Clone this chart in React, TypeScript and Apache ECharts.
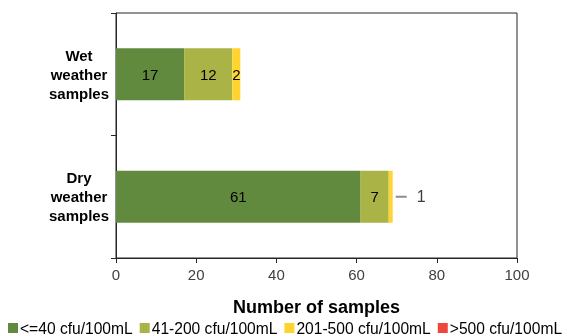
import React, { useEffect, useRef } from "react";
import * as echarts from "echarts";

const categories = ["Wet\nweather\nsamples", "Dry\nweather\nsamples"];
const seriesNames = ["<=40 cfu/100mL", "41-200 cfu/100mL", "201-500 cfu/100mL", ">500 cfu/100mL"];
const le40 = [17, 61];
const v41to200 = [12, 7];
const v201to500 = [2, 1];
const gt500 = [0, 0];
const xTicks = [0, 20, 40, 60, 80, 100];
const colors = ["#628a3f", "#aab345", "#ffd42e", "#f0473c"];

export default function App() {
  const ref = useRef<HTMLDivElement>(null);
  useEffect(() => {
    const chart = echarts.init(ref.current!, null, { renderer: "svg" });
    const font = "'Liberation Sans', Arial, sans-serif";
    const inside = { show: true, position: "inside", color: "#000", fontSize: 15, fontFamily: font };
    chart.setOption({
      animation: false,
      grid: { left: 116, right: 52, top: 13, bottom: 78, show: true, borderColor: "#262626", borderWidth: 1 },
      xAxis: {
        type: "value",
        min: xTicks[0],
        max: xTicks[xTicks.length - 1],
        interval: 20,
        axisLine: { show: true, lineStyle: { color: "#262626" } },
        axisTick: { show: true, length: 5, lineStyle: { color: "#262626" } },
        splitLine: { show: false },
        axisLabel: { color: "#404040", fontSize: 15, fontFamily: font, margin: 9 },
        name: "Number of samples",
        nameLocation: "middle",
        nameGap: 40,
        nameTextStyle: { color: "#000", fontSize: 18, fontWeight: "bold", fontFamily: font },
      },
      yAxis: {
        type: "category",
        data: categories,
        inverse: true,
        axisLine: { show: true, lineStyle: { color: "#262626" } },
        axisTick: { show: true, length: 5, lineStyle: { color: "#262626" } },
        axisLabel: {
          color: "#000",
          fontSize: 15,
          fontWeight: "bold",
          fontFamily: font,
          align: "center",
          margin: 37,
          lineHeight: 19,
        },
      },
      legend: {
        top: 320,
        left: 8,
        padding: 0,
        itemWidth: 10,
        itemHeight: 10,
        itemGap: 7,
        icon: "rect",
        textStyle: { color: "#000", fontSize: 15.6, fontFamily: font, padding: [0, 0, 0, -3] },
        data: seriesNames,
      },
      series: [
        { name: seriesNames[0], type: "bar", stack: "s", barWidth: 52, data: le40, itemStyle: { color: colors[0] }, label: inside },
        { name: seriesNames[1], type: "bar", stack: "s", barWidth: 52, data: v41to200, itemStyle: { color: colors[1] }, label: inside },
        {
          name: seriesNames[2],
          type: "bar",
          stack: "s",
          barWidth: 52,
          itemStyle: { color: colors[2] },
          data: [
            { value: v201to500[0], label: inside },
            {
              value: v201to500[1],
              label: {
                show: true,
                position: "right",
                distance: 3,
                formatter: "{l|}   {v|{c}}",
                rich: {
                  l: { width: 11, height: 2, backgroundColor: "#8c8c8c" },
                  v: { color: "#404040", fontSize: 16, fontFamily: font },
                },
              },
            },
          ],
        },
        { name: seriesNames[3], type: "bar", stack: "s", barWidth: 52, data: gt500, itemStyle: { color: colors[3] }, label: { show: false } },
      ],
    });
    return () => chart.dispose();
  }, []);
  return <div ref={ref} style={{ position: "fixed", left: 0, top: 0, width: 569, height: 336 }} />;
}
